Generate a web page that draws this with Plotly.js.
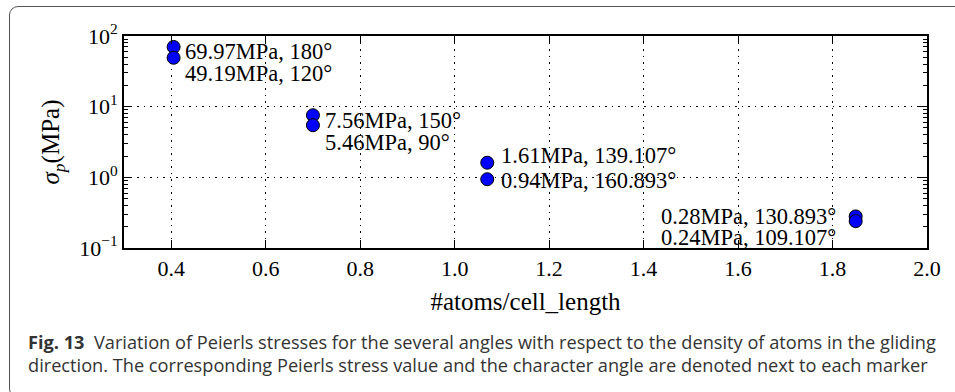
<!DOCTYPE html>
<html>
<head>
<meta charset="utf-8">
<script src="https://cdn.plot.ly/plotly-3.0.1.min.js"></script>
<style>
  html, body { margin: 0; padding: 0; background: #fff; overflow: hidden; }
  #frame {
    position: absolute; left: 9px; top: 6px; width: 1000px; height: 392px;
    border: 1.5px solid #555; border-radius: 9px; box-sizing: border-box;
  }
  #chart { position: absolute; left: 0; top: 0; width: 955px; height: 392px; }
</style>
</head>
<body>
<div id="frame"></div>
<div id="chart"></div>
<script>
// Number of atoms per cell length for each dislocation character angle
const atomDensity = [0.405, 0.405, 0.70, 0.70, 1.069, 1.069, 1.849, 1.849];
// Peierls stress (MPa)
const peierlsStress = [69.97, 49.19, 7.56, 5.46, 1.61, 0.94, 0.28, 0.24];
// Character angle (degrees)
const characterAngle = ['180', '120', '150', '90', '139.107', '160.893', '130.893', '109.107'];

const xTickVals = [0.4, 0.6, 0.8, 1.0, 1.2, 1.4, 1.6, 1.8, 2.0];
const xTickText = ['0.4', '0.6', '0.8', '1.0', '1.2', '1.4', '1.6', '1.8', '2.0'];
const yTickVals = [0.1, 1, 10, 100];
const yTickText = ['10<sup>−1</sup>', '10<sup>0</sup>', '10<sup>1</sup>', '10<sup>2</sup>'];

// Label placement next to each marker (pixel offsets from the marker centre)
const labelPlacement = [
  { side: 'left',  dx: 9,   dy: -5 },
  { side: 'left',  dx: 9,   dy: -16 },
  { side: 'left',  dx: 10,  dy: -5 },
  { side: 'left',  dx: 10,  dy: -17 },
  { side: 'left',  dx: 12,  dy: 7 },
  { side: 'left',  dx: 12,  dy: -1 },
  { side: 'right', dx: -18, dy: 0 },
  { side: 'right', dx: -18, dy: -16 }
];

const serif = 'Liberation Serif, Times New Roman, serif';
const sans = 'Open Sans, Noto Sans, sans-serif';

const trace = {
  x: atomDensity,
  y: peierlsStress,
  type: 'scatter',
  mode: 'markers',
  marker: { color: '#0000ff', size: 13, line: { color: '#000', width: 1 } },
  hoverinfo: 'x+y'
};

const markerLabels = peierlsStress.map((v, i) => ({
  x: atomDensity[i],
  y: Math.log10(v),
  xref: 'x', yref: 'y',
  text: v.toFixed(2) + 'MPa, ' + characterAngle[i] + '°',
  showarrow: false,
  xanchor: labelPlacement[i].side,
  yanchor: 'middle',
  xshift: labelPlacement[i].dx,
  yshift: labelPlacement[i].dy,
  font: { family: serif, size: 22.5, color: '#000' }
}));

const caption = [
  {
    xref: 'paper', yref: 'paper', x: -0.122, y: -0.443,
    xanchor: 'left', yanchor: 'middle', showarrow: false,
    text: '<b>Fig. 13</b>  Variation of Peierls stresses for the several angles with respect to the density of atoms in the gliding',
    font: { family: sans, size: 18.2, color: '#333' }
  },
  {
    xref: 'paper', yref: 'paper', x: -0.122, y: -0.552,
    xanchor: 'left', yanchor: 'middle', showarrow: false,
    text: 'direction. The corresponding Peierls stress value and the character angle are denoted next to each marker',
    font: { family: sans, size: 18.2, color: '#333' }
  }
];

const axisCommon = {
  showline: true, linecolor: '#000', linewidth: 2, mirror: 'allticks',
  ticks: 'inside', ticklen: 8, tickwidth: 1, tickcolor: '#000',
  showgrid: true, gridcolor: '#000', gridwidth: 1, griddash: '1.5px,5px',
  zeroline: false,
  tickfont: { family: serif, size: 22, color: '#000' }
};

const layout = {
  width: 955, height: 392,
  margin: { l: 124, r: 28, t: 36, b: 144 },
  paper_bgcolor: 'rgba(0,0,0,0)',
  plot_bgcolor: '#fff',
  showlegend: false,
  xaxis: Object.assign({}, axisCommon, {
    range: [0.3, 2.0],
    tickmode: 'array', tickvals: xTickVals, ticktext: xTickText,
    title: { text: '#atoms/cell_length', font: { family: serif, size: 25, color: '#000' }, standoff: 12 }
  }),
  yaxis: Object.assign({}, axisCommon, {
    type: 'log',
    range: [-1, 2],
    tickmode: 'array', tickvals: yTickVals, ticktext: yTickText,
    minor: { ticks: 'inside', ticklen: 4, tickcolor: '#000', dtick: 'D1', showgrid: false },
    title: { text: '<i>σ</i><sub><i>p</i></sub>(MPa)', font: { family: serif, size: 25, color: '#000' }, standoff: 12 }
  }),
  annotations: markerLabels.concat(caption)
};

Plotly.newPlot('chart', [trace], layout, { displayModeBar: false, staticPlot: true });
</script>
</body>
</html>
